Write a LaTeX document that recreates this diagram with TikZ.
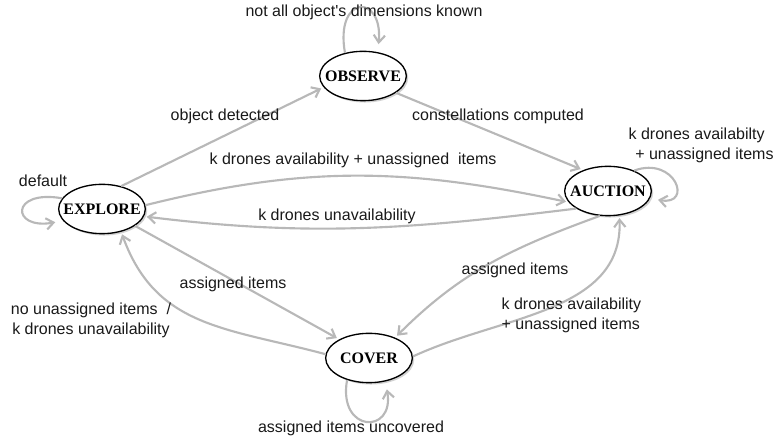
\documentclass[tikz,border=0pt]{standalone}
\usepackage{fontspec}
\setmainfont{Liberation Sans}
\newfontfamily\statefont{Liberation Serif}
\usetikzlibrary{arrows.meta,shapes.geometric,shadows}

\definecolor{edgegray}{RGB}{184,184,184}

\begin{document}
\begin{tikzpicture}[
  x=0.75pt, y=0.75pt,
  font=\fontsize{12}{15}\selectfont,
  phase/.style={ellipse, draw=black, line width=1pt, fill=white, minimum width=65pt, minimum height=37pt, inner sep=0pt,
    drop shadow={shadow xshift=1.4pt, shadow yshift=-1.4pt, fill=black!35},
    label={[phasename]center:#1}},
  phasename/.style={font=\statefont\bfseries\fontsize{12}{14}\selectfont},
  trans/.style={draw=edgegray, line width=1.6pt, -{Straight Barb[length=5.5pt,width=8.5pt]}, shorten >=2pt},
  selfloop/.style={trans, shorten >=6pt},
  lbl/.style={text=black!90, align=center, inner sep=1pt}
]
\useasboundingbox (0,0) rectangle (773,441);

\node[phase=OBSERVE] (observe) at (363,365) {};
\node[phase=EXPLORE] (explore) at (102,232) {};
\node[phase=AUCTION] (auction) at (608,250) {};
\node[phase=COVER]   (cover)   at (369,83)  {};

% transitions between phases
\draw[trans] (explore.50) -- (observe.196);
\draw[trans] (observe.333) -- (auction.140);
\draw[trans] (explore.5) to[out=14, in=168] (auction.196);
\draw[trans] (auction.209) to[out=187, in=-7] (explore.-10);
\draw[trans] (explore.333) -- (cover.148);
\draw[trans] (cover.175) to[out=165, in=-70, looseness=1.1] (explore.-50);
\draw[trans] (auction.252) to[out=200, in=45] (cover.38);
\draw[trans] (cover.2) to[out=25, in=-88] (auction.295);

% self loops
\draw[selfloop] (explore.165) to[out=170, in=190, looseness=6] (explore.197);
\draw[selfloop] (observe.128) to[out=100, in=85, looseness=4.6] (observe.58);
\draw[selfloop] (auction.38) to[out=20, in=-10, looseness=3.5] (auction.-10);
\draw[selfloop] (cover.225) to[out=260, in=-80, looseness=3.6] (cover.305);

% labels
\node[lbl] (l-detected) at (225,325) {object detected};
\node[lbl] (l-computed) at (498,325) {constellations computed};
\node[lbl] (l-dims) at (364,429) {not all object\textquotesingle s dimensions known};
\node[lbl] (l-avail) at (353,281) {k drones availability + unassigned\ \ items};
\node[lbl] (l-default) at (43,260) {default};
\node[lbl, align=left, anchor=west] (l-aucloop) at (627,296) {k drones availabilty\\\hspace{5pt}+ unassigned items};
\node[lbl] (l-unavail) at (337,225) {k drones unavailability};
\node[lbl] (l-assigned) at (233,157) {assigned items};
\node[lbl] (l-noitems) at (91,121) {no unassigned items\ \ /\\k drones unavailability};
\node[lbl] (l-assigned2) at (515,171) {assigned items};
\node[lbl, align=left, anchor=west] (l-avail2) at (500,126) {k drones availability\\+ unassigned items};
\node[lbl] (l-uncovered) at (351,13) {assigned items uncovered};

\end{tikzpicture}
\end{document}
